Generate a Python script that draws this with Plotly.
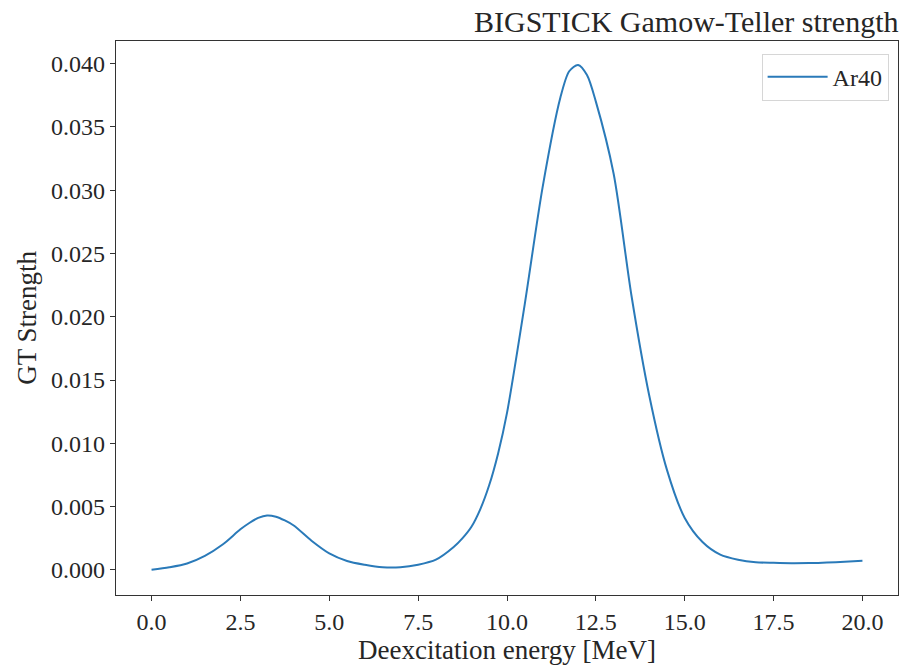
import plotly.graph_objects as go

# Data
energy = [0.0, 0.5, 1.0, 1.5, 2.0, 2.5, 2.75, 3.0, 3.25, 3.5, 3.75, 4.0, 4.5, 5.0,
          5.5, 6.0, 6.5, 7.0, 7.5, 8.0, 8.5, 8.75, 9.0, 9.25, 9.5, 9.75, 10.0,
          10.5, 11.0, 11.5, 11.75, 12.0, 12.25, 12.5, 13.0, 13.5, 14.0, 14.5, 15.0,
          15.5, 16.0, 16.5, 17.0, 17.5, 18.0, 18.5, 19.0, 19.5, 20.0]
strength = [0.0000, 0.0002, 0.0005, 0.0011, 0.0020, 0.0032, 0.0037, 0.0041, 0.0043,
            0.0042, 0.0039, 0.0035, 0.0023, 0.0013, 0.0007, 0.0004, 0.0002, 0.0002,
            0.0004, 0.0008, 0.0018, 0.0025, 0.0034, 0.0048, 0.0067, 0.0092, 0.0124,
            0.0210, 0.0302, 0.0373, 0.0394, 0.0399, 0.0391, 0.0370, 0.0313, 0.0217,
            0.0138, 0.0079, 0.0041, 0.0022, 0.0012, 0.0008, 0.0006, 0.00055, 0.00052,
            0.00053, 0.00057, 0.00063, 0.00071]
series_name = "Ar40"
title_text = "BIGSTICK Gamow-Teller strength"
x_label = "Deexcitation energy [MeV]"
y_label = "GT Strength"
x_ticks = [0.0, 2.5, 5.0, 7.5, 10.0, 12.5, 15.0, 17.5, 20.0]
y_ticks = [0.000, 0.005, 0.010, 0.015, 0.020, 0.025, 0.030, 0.035, 0.040]

FONT = "Liberation Serif, DejaVu Serif, serif"
TXT = "#262626"

fig = go.Figure()
fig.add_trace(go.Scatter(
    x=energy, y=strength, mode="lines", name=series_name,
    line=dict(color="#2a7ab9", width=2, shape="spline", smoothing=0.8),
))

axis_common = dict(
    showgrid=False, zeroline=False, showline=True, mirror=True,
    linecolor="#333333", linewidth=1.3, automargin=False,
    ticks="outside", ticklen=5, tickwidth=1, tickcolor="#333333",
    tickfont=dict(family=FONT, size=24, color=TXT),
)

fig.update_layout(
    width=905, height=666,
    margin=dict(l=116, r=7, t=41, b=71),
    paper_bgcolor="white", plot_bgcolor="white",
    font=dict(family=FONT, color=TXT),
    showlegend=True,
    legend=dict(
        x=0.988, y=0.977, xanchor="right", yanchor="top", itemwidth=60,
        bgcolor="rgba(255,255,255,0.9)", bordercolor="#d6d6d6", borderwidth=1,
        font=dict(family=FONT, size=24, color=TXT),
    ),
    xaxis=dict(
        range=[-1.0, 21.0], tickvals=x_ticks, tickformat=".1f",
        title=dict(text=x_label, font=dict(family=FONT, size=27, color=TXT), standoff=2),
        **axis_common,
    ),
    yaxis=dict(
        range=[-0.00199, 0.04179], tickvals=y_ticks, tickformat=".3f",
        title=dict(text=y_label, font=dict(family=FONT, size=27, color=TXT), standoff=6),
        **axis_common,
    ),
)

fig.add_annotation(
    text=title_text, xref="paper", yref="paper", x=1.003, y=1.0,
    xanchor="right", yanchor="bottom", yshift=1, showarrow=False,
    font=dict(family=FONT, size=30, color=TXT),
)

fig.write_html("out.html")
